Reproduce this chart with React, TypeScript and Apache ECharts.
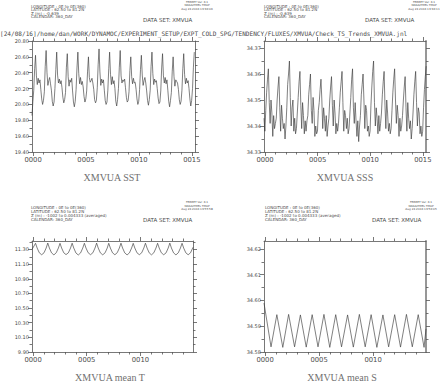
import React, { useEffect, useRef } from "react";
import * as echarts from "echarts";

// ---------- data ----------
const SAMPLE_START = -0.1; // model years
const SAMPLES_PER_YEAR = 12;

// XMVUA SST, monthly
const sst = [
  19.86,
  20.04, 20.18, 20.45, 20.62, 20.36, 20.25, 20.33, 20.27, 20.31, 20.19, 20.07, 20.0,
  20.05, 20.16, 20.48, 20.68, 20.4, 20.24, 20.3, 20.34, 20.26, 20.18, 20.04, 19.98,
  20.03, 20.2, 20.44, 20.66, 20.37, 20.27, 20.32, 20.26, 20.3, 20.21, 20.09, 20.02,
  20.06, 20.15, 20.47, 20.64, 20.35, 20.23, 20.31, 20.28, 20.33, 20.17, 20.03, 19.97,
  20.04, 20.19, 20.46, 20.66, 20.39, 20.26, 20.34, 20.25, 20.29, 20.22, 20.1, 20.03,
  20.07, 20.17, 20.42, 20.6, 20.34, 20.28, 20.3, 20.33, 20.27, 20.19, 20.06, 20.02,
  20.05, 20.21, 20.5, 20.7, 20.41, 20.24, 20.32, 20.27, 20.31, 20.18, 20.05, 20.0,
  20.03, 20.18, 20.45, 20.66, 20.38, 20.25, 20.35, 20.26, 20.3, 20.2, 20.04, 19.98,
  20.06, 20.2, 20.47, 20.68, 20.36, 20.27, 20.31, 20.29, 20.32, 20.21, 20.09, 20.03,
  20.05, 20.16, 20.43, 20.6, 20.35, 20.26, 20.33, 20.27, 20.28, 20.19, 20.07, 20.0,
  20.04, 20.19, 20.44, 20.62, 20.37, 20.24, 20.3, 20.34, 20.27, 20.17, 20.05, 19.99,
  20.06, 20.18, 20.48, 20.66, 20.39, 20.25, 20.32, 20.28, 20.3, 20.2, 20.08, 20.01,
  20.03, 20.17, 20.46, 20.64, 20.36, 20.27, 20.34, 20.26, 20.31, 20.18, 20.04, 19.97,
  20.05, 20.15, 20.42, 20.6, 20.35, 20.23, 20.31, 20.29, 20.27, 20.19, 20.06, 20.0,
  20.04, 20.18, 20.45, 20.64, 20.38, 20.26, 20.33, 20.27, 20.3, 20.2, 20.07, 19.98,
  20.05, 20.2, 20.47, 20.66,
];

// XMVUA SSS, monthly
const sss = [
  34.343,
  34.338, 34.346, 34.353, 34.358, 34.362, 34.349, 34.341, 34.35, 34.345, 34.336, 34.344, 34.339,
  34.341, 34.343, 34.35, 34.355, 34.359, 34.347, 34.338, 34.348, 34.343, 34.339, 34.341, 34.335,
  34.34, 34.347, 34.356, 34.36, 34.365, 34.351, 34.34, 34.347, 34.35, 34.338, 34.343, 34.337,
  34.339, 34.345, 34.351, 34.357, 34.361, 34.348, 34.339, 34.349, 34.344, 34.337, 34.342, 34.338,
  34.342, 34.344, 34.352, 34.356, 34.36, 34.346, 34.341, 34.351, 34.346, 34.336, 34.34, 34.337,
  34.338, 34.346, 34.349, 34.354, 34.358, 34.35, 34.339, 34.347, 34.343, 34.338, 34.344, 34.336,
  34.34, 34.343, 34.35, 34.355, 34.359, 34.348, 34.34, 34.35, 34.345, 34.337, 34.341, 34.338,
  34.341, 34.347, 34.353, 34.357, 34.361, 34.349, 34.338, 34.346, 34.344, 34.339, 34.343, 34.337,
  34.339, 34.345, 34.351, 34.358, 34.362, 34.347, 34.341, 34.349, 34.342, 34.336, 34.342, 34.334,
  34.34, 34.344, 34.352, 34.356, 34.36, 34.35, 34.339, 34.348, 34.346, 34.338, 34.34, 34.336,
  34.338, 34.348, 34.355, 34.361, 34.365, 34.349, 34.34, 34.347, 34.343, 34.337, 34.344, 34.338,
  34.341, 34.345, 34.352, 34.357, 34.361, 34.348, 34.339, 34.35, 34.345, 34.338, 34.341, 34.337,
  34.339, 34.346, 34.353, 34.358, 34.362, 34.35, 34.341, 34.348, 34.344, 34.336, 34.343, 34.338,
  34.34, 34.344, 34.35, 34.355, 34.359, 34.347, 34.338, 34.349, 34.343, 34.339, 34.342, 34.335,
  34.339, 34.345, 34.352, 34.357, 34.361, 34.349, 34.34, 34.347, 34.345, 34.337, 34.34, 34.336,
  34.338, 34.347, 34.354, 34.359, 34.363,
];

// XMVUA mean T
const meanTTime = [
  -0.1,
  0.23, 0.38, 0.58, 0.8, 1.02, 1.22,
  1.37, 1.52, 1.72, 1.94, 2.16, 2.36,
  2.51, 2.66, 2.86, 3.07, 3.29, 3.49,
  3.64, 3.79, 3.99, 4.21, 4.43, 4.63,
  4.78, 4.93, 5.13, 5.35, 5.57, 5.77,
  5.92, 6.07, 6.27, 6.49, 6.71, 6.91,
  7.05, 7.2, 7.4, 7.62, 7.84, 8.04,
  8.19, 8.34, 8.54, 8.76, 8.98, 9.18,
  9.33, 9.48, 9.68, 9.9, 10.12, 10.32,
  10.47, 10.62, 10.82, 11.03, 11.25, 11.45,
  11.6, 11.75, 11.95, 12.17, 12.39, 12.59,
  12.74, 12.89, 13.09, 13.31, 13.53, 13.73,
  13.88, 14.03, 14.23, 14.45, 14.67, 14.87,
  14.9,
];
const meanT = [
  11.3,
  11.385, 11.32, 11.255, 11.228, 11.255, 11.32,
  11.388, 11.32, 11.254, 11.226, 11.256, 11.32,
  11.384, 11.32, 11.255, 11.23, 11.255, 11.32,
  11.386, 11.32, 11.253, 11.225, 11.254, 11.32,
  11.385, 11.32, 11.256, 11.229, 11.255, 11.32,
  11.387, 11.32, 11.254, 11.227, 11.255, 11.32,
  11.385, 11.32, 11.255, 11.228, 11.256, 11.32,
  11.386, 11.32, 11.254, 11.226, 11.254, 11.32,
  11.384, 11.32, 11.255, 11.229, 11.255, 11.32,
  11.386, 11.32, 11.254, 11.227, 11.255, 11.32,
  11.385, 11.32, 11.255, 11.228, 11.254, 11.32,
  11.387, 11.32, 11.254, 11.226, 11.255, 11.32,
  11.385, 11.32, 11.255, 11.228, 11.255, 11.32,
  11.33,
];

// XMVUA mean S
const meanSTime = [
  -0.1, 0.55, 1.09, 1.64, 2.18, 2.73, 3.27, 3.81, 4.36, 4.9, 5.45, 5.99, 6.54, 7.08,
  7.64, 8.17, 8.73, 9.27, 9.82, 10.35, 10.91, 11.44, 12.0, 12.54, 13.09, 13.63, 14.18,
  14.72, 14.9,
];
const meanS = [
  34.599, 34.582, 34.5945, 34.5818, 34.5946, 34.582, 34.5944, 34.5819, 34.5945, 34.582,
  34.5946, 34.5818, 34.5945, 34.582, 34.5944, 34.5819, 34.5946, 34.582, 34.5945, 34.5818,
  34.5944, 34.582, 34.5945, 34.5819, 34.5946, 34.582, 34.5945, 34.5818, 34.589,
];

// tick labels
const sstYLabels = [19.4, 19.6, 19.8, 20.0, 20.2, 20.4, 20.6, 20.8];
const sstYMinor = [19.5, 19.7, 19.9, 20.1, 20.3, 20.5, 20.7];
const sssYLabels = [34.33, 34.34, 34.35, 34.36, 34.37];
const sssYMinor = [34.335, 34.345, 34.355, 34.365];
const tYLabels = [9.9, 10.1, 10.3, 10.5, 10.7, 10.9, 11.1, 11.3];
const tYMinor = [10.0, 10.2, 10.4, 10.6, 10.8, 11.0, 11.2, 11.4];
const sYLabels = [34.58, 34.59, 34.6, 34.61, 34.62];
const sYMinor = [34.585, 34.595, 34.605, 34.615];
const topXLabels = [0, 5, 10, 15];
const bottomXLabels = [0, 5, 10];
const xMinorYears = [1, 2, 3, 4, 6, 7, 8, 9, 11, 12, 13, 14];

const titles = ["XMVUA SST", "XMVUA SSS", "XMVUA mean T", "XMVUA mean S"];
const headerSurface = ["LONGITUDE : 0E to 0E(360)", "LATITUDE : 62.50 to 81.2N", "Z (m) : -0.639", "CALENDAR: 360_DAY"];
const headerMean = ["LONGITUDE : 0E to 0E(360)", "LATITUDE : 62.50 to 81.2N", "Z (m) : -1002 to 0.004333 (averaged)", "CALENDAR: 360_DAY"];
const ferretStamps = ["Aug 24 2016 13:36:06", "Aug 24 2016 13:36:11", "Aug 24 2016 13:55:58", "Aug 24 2016 13:56:05"];
const dataSetLabel = "DATA SET: XMVUA";
const pathLabel = "[24/08/16]/home/dan/WORK/DYNAMOC/EXPERIMENT_SETUP/EXPT_COLD_SPG/TENDENCY/FLUXES/XMVUA/Check_TS_Trends_XMVUA.jnl";

// ---------- styling ----------
const SANS = "'DejaVu Sans', sans-serif";
const MONO = "'DejaVu Sans Mono', monospace";
const SERIF = "'Liberation Serif', serif";
const AX = "#555";
const TXT = "#4a4a4a";
const LINE = "#3a3a3a";

const fmtYear = (v: number) => String(Math.round(v)).padStart(4, "0");

export default function App() {
  const ref = useRef<HTMLDivElement>(null);

  useEffect(() => {
    if (!ref.current) return;
    const chart = echarts.init(ref.current, undefined, { renderer: "svg" });

    const monthly = (vals: number[]) => vals.map((v, i) => [SAMPLE_START + i / SAMPLES_PER_YEAR, v]);
    const paired = (ts: number[], vs: number[]) => ts.map((t, i) => [t, vs[i]]);

    const panels = [
      { left: 32, top: 41, width: 163, height: 111, x: [-0.1, 15.3], y: [19.4, 20.8], xMajor: topXLabels, yMajor: sstYLabels, yMinor: sstYMinor, data: monthly(sst), heavyRight: false },
      { left: 264, top: 41, width: 162, height: 111, x: [-0.1, 15.3], y: [34.33, 34.3727], xMajor: topXLabels, yMajor: sssYLabels, yMinor: sssYMinor, data: monthly(sss), heavyRight: true },
      { left: 32, top: 241, width: 161, height: 111, x: [-0.1, 14.9], y: [9.9, 11.416], xMajor: bottomXLabels, yMajor: tYLabels, yMinor: tYMinor, data: paired(meanTTime, meanT), heavyRight: false },
      { left: 264, top: 241, width: 162, height: 111, x: [-0.1, 14.9], y: [34.58, 34.6231], xMajor: bottomXLabels, yMajor: sYLabels, yMinor: sYMinor, data: paired(meanSTime, meanS), heavyRight: true },
    ];

    const line = { color: AX, width: 0.8 };
    const grid: any[] = [];
    const xAxis: any[] = [];
    const yAxis: any[] = [];
    const series: any[] = [];

    panels.forEach((p, g) => {
      grid.push({ left: p.left, top: p.top, width: p.width, height: p.height, containLabel: false, outerBoundsMode: "none" });
      const xb = { gridIndex: g, type: "value", min: p.x[0], max: p.x[1], splitLine: { show: false }, splitArea: { show: false } };
      xAxis.push(
        { ...xb, position: "bottom", axisLine: { show: true, onZero: false, lineStyle: line }, axisTick: { show: true, customValues: p.xMajor, length: 4, lineStyle: line }, axisLabel: { show: true, customValues: p.xMajor, formatter: fmtYear, fontSize: 6.8, fontFamily: SANS, color: TXT, margin: 4 } },
        { ...xb, position: "bottom", axisLine: { show: false, onZero: false }, axisTick: { show: true, customValues: xMinorYears, length: 2.5, lineStyle: line }, axisLabel: { show: false } },
        { ...xb, position: "top", axisLine: { show: true, onZero: false, lineStyle: line }, axisTick: { show: true, customValues: p.xMajor, length: 4, lineStyle: line }, axisLabel: { show: false } },
        { ...xb, position: "top", axisLine: { show: false, onZero: false }, axisTick: { show: true, customValues: xMinorYears, length: 2.5, lineStyle: line }, axisLabel: { show: false } }
      );
      const yb = { gridIndex: g, type: "value", min: p.y[0], max: p.y[1], splitLine: { show: false }, splitArea: { show: false } };
      const rightLine = p.heavyRight ? { color: "#8c8c8c", width: 1.8 } : line;
      yAxis.push(
        { ...yb, position: "left", axisLine: { show: true, onZero: false, lineStyle: line }, axisTick: { show: true, customValues: p.yMajor, length: 4, lineStyle: line }, axisLabel: { show: true, customValues: p.yMajor, formatter: (v: number) => v.toFixed(2), fontSize: 5, fontFamily: SANS, color: TXT, margin: 3 } },
        { ...yb, position: "left", axisLine: { show: false, onZero: false }, axisTick: { show: true, customValues: p.yMinor, length: 2.5, lineStyle: line }, axisLabel: { show: false } },
        { ...yb, position: "right", axisLine: { show: true, onZero: false, lineStyle: rightLine }, axisTick: { show: true, customValues: p.yMajor, length: 4, lineStyle: line }, axisLabel: { show: false } },
        { ...yb, position: "right", axisLine: { show: false, onZero: false }, axisTick: { show: true, customValues: p.yMinor, length: 2.5, lineStyle: line }, axisLabel: { show: false } }
      );
      series.push({
        type: "line",
        xAxisIndex: 4 * g,
        yAxisIndex: 4 * g,
        data: p.data,
        symbol: "none",
        showSymbol: false,
        silent: true,
        clip: true,
        lineStyle: { color: LINE, width: 0.65 },
      });
    });

    const txt = (x: number, y: number, text: string, font: string, fill: string, align = "left", va = "middle", lineHeight?: number) => ({
      type: "text",
      x,
      y,
      silent: true,
      style: { text, font, fill, align, verticalAlign: va, lineHeight },
    });

    const graphic: any[] = [];
    const headerPos = [
      { x: 31, y: 4.2, lh: 3.6, ds: [143, 20], stamp: [197, 0.2] },
      { x: 264, y: 4.2, lh: 3.6, ds: [365, 20], stamp: [424, 0.2] },
      { x: 31, y: 205.8, lh: 4.0, ds: [143, 220], stamp: [197, 200.5] },
      { x: 265, y: 205.8, lh: 4.0, ds: [372, 220], stamp: [421, 200.5] },
    ];
    headerPos.forEach((h, i) => {
      const lines = i < 2 ? headerSurface : headerMean;
      graphic.push(txt(h.x, h.y, lines.join("\n"), `4px ${SANS}`, TXT, "left", "top", h.lh));
      graphic.push(txt(h.ds[0], h.ds[1], dataSetLabel, `5.5px ${SANS}`, TXT, "left", "middle"));
      graphic.push(txt(h.stamp[0], h.stamp[1], ["FERRET Ver. 6.1", "NOAA/PMEL TMAP", ferretStamps[i]].join("\n"), `2.8px ${SANS}`, TXT, "center", "top", 3.2));
    });
    graphic.push(txt(0, 33, pathLabel, `6.1px ${MONO}`, TXT, "left", "middle"));
    const titlePos = [
      [112, 177],
      [345, 177],
      [110, 377],
      [342, 377],
    ];
    titlePos.forEach((t, i) => graphic.push(txt(t[0], t[1], titles[i], `10px ${SERIF}`, "#707070", "center", "middle")));

    chart.setOption({
      animation: false,
      backgroundColor: "#ffffff",
      grid,
      xAxis,
      yAxis,
      series,
      graphic,
    });

    return () => chart.dispose();
  }, []);

  return <div ref={ref} style={{ position: "fixed", left: 0, top: 0, width: 444, height: 382, background: "#fff" }} />;
}
